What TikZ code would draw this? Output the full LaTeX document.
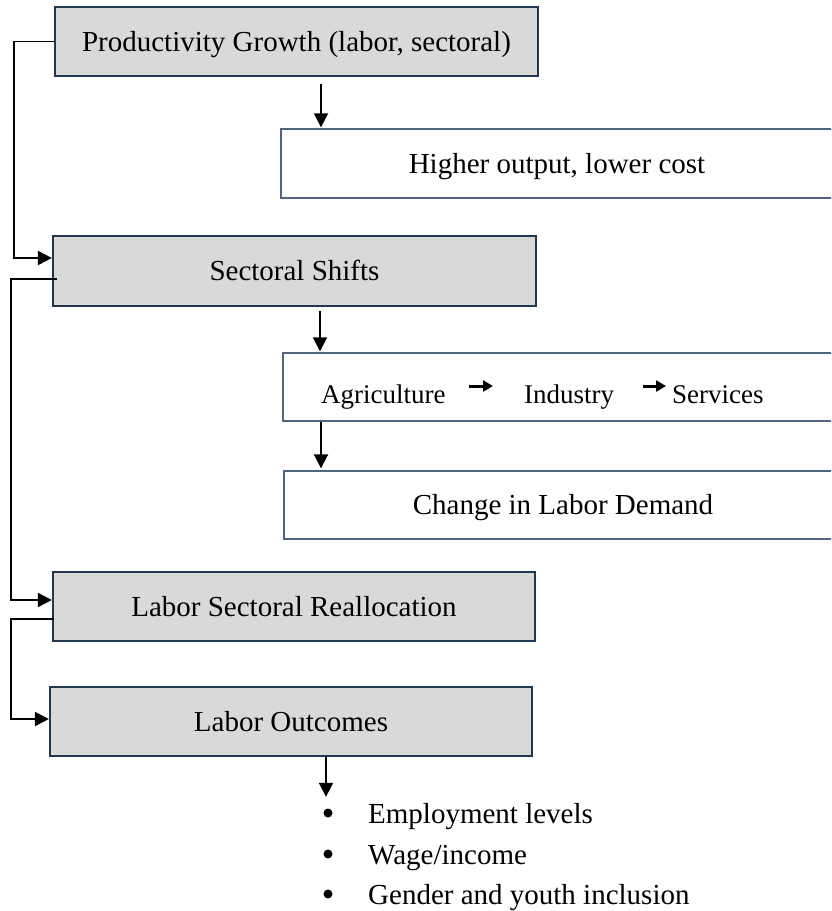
\documentclass[tikz,border=0pt]{standalone}
\usepackage{fontspec}
\setmainfont{Liberation Serif}
\usetikzlibrary{arrows.meta}
\definecolor{boxgray}{HTML}{D9D9D9}
\definecolor{edgeblue}{HTML}{203752}
\definecolor{thinblue}{HTML}{51657F}
\begin{document}
\begin{tikzpicture}[x=1pt,y=-1pt,
  font=\fontsize{29}{35}\selectfont,
  graybox/.style={draw=edgeblue, line width=2.2pt, fill=boxgray, inner sep=0pt,
    minimum width=483pt, minimum height=69pt, text height=26pt, text depth=6.8pt},
  whitebox/.style={draw=thinblue, line width=1.4pt, fill=white, inner sep=0pt,
    minimum height=68pt, text height=26pt, text depth=6.8pt},
  conn/.style={draw=black, line width=1.9pt, -{Triangle[length=14pt,width=14pt]}},
  smallarr/.style={draw=black, line width=3pt, -{Triangle[length=10pt,width=11pt]}},
  word/.style={inner sep=0pt, anchor=base west, font=\fontsize{27}{32}\selectfont},
  item/.style={inner sep=0pt, anchor=base west, text height=26pt, text depth=5pt},
  dot/.style={circle, fill=black, inner sep=0pt, minimum size=9pt}]
\useasboundingbox (0,0) rectangle (831,911);
\clip (0,0) rectangle (831,911);

% boxes
\node[graybox] (b1) at (296.5,41.5) {Productivity Growth (labor, sectoral)};
\node[whitebox, minimum width=552pt, minimum height=69pt] (b2) at (557,163.5) {Higher output, lower cost};
\node[graybox, minimum height=70pt] (b3) at (294.5,271) {Sectoral Shifts};
\node[whitebox, minimum width=552pt] (b4) at (559,387) {};
\node[whitebox, minimum width=558pt] (b5) at (563,505) {Change in Labor Demand};
\node[graybox, minimum width=482pt] (b6) at (294,606.5) {Labor Sectoral Reallocation};
\node[graybox, minimum width=482pt] (b7) at (291,721.5) {Labor Outcomes};

% words inside b4
\node[word] (agr) at (321,403) {Agriculture};
\node[word] (ind) at (524,403) {Industry};
\node[word] (ser) at (672,403) {Services};
\coordinate (arow) at (0,386);
\draw[smallarr, shorten <=23.5pt, shorten >=31pt] (agr.east |- arow) -- (ind.west |- arow);
\draw[smallarr, shorten <=29pt, shorten >=6pt] (ind.east |- arow) -- (ser.west |- arow);

% bullet list
\node[item] (i1) at (368,823) {Employment levels};
\node[item] (i2) at (368,864) {Wage/income};
\node[item] (i3) at (368,904) {Gender and youth inclusion};
\node[dot] (d1) at (328,813) {};
\node[dot] (d2) at (328,854) {};
\node[dot] (d3) at (328,894) {};

% vertical arrows
\coordinate (v1) at (321,0);
\coordinate (v2) at (320,0);
\coordinate (v3) at (321,0);
\coordinate (v4) at (326,0);
\draw[conn, shorten <=7pt, shorten >=1pt] (b1.south -| v1) -- (b2.north -| v1);
\draw[conn, shorten <=4pt, shorten >=1pt] (b3.south -| v2) -- (b4.north -| v2);
\draw[conn, shorten >=2pt] (b4.south -| v3) -- (b5.north -| v3);
\draw[conn, shorten >=0pt] (b7.south -| v4) -- (i1.north -| v4);

% left feedback connectors
\draw[conn] (b1.west) -- ++(-40,0) |- ([yshift=13pt]b3.west);
\draw[conn] ([xshift=5pt,yshift=-8pt]b3.west) -- ++(-46,0) |- ([yshift=6.5pt]b6.west);
\draw[conn] ([xshift=2pt,yshift=-12.5pt]b6.west) -- ++(-43,0) |- ([yshift=2.5pt]b7.west);
\end{tikzpicture}
\end{document}
